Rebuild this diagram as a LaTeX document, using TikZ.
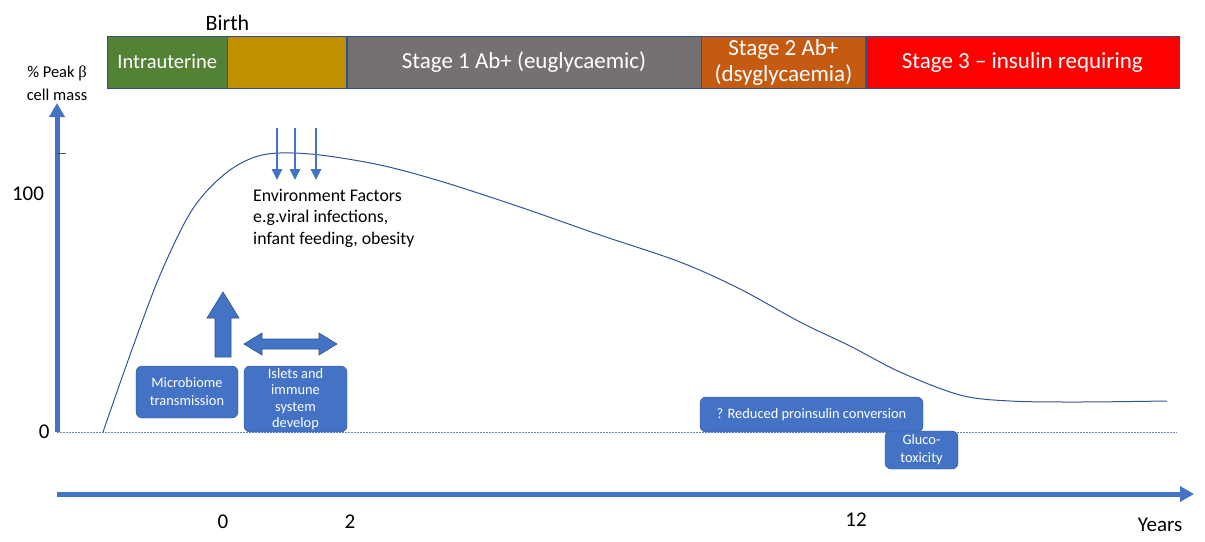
\documentclass[tikz,border=0pt]{standalone}
\usepackage{fontspec}
\setmainfont{Carlito}
\newfontfamily\symfont{Liberation Serif}
\usepackage{tikz}
\usetikzlibrary{positioning,arrows.meta}
\definecolor{axisblue}{HTML}{4472C4}
\definecolor{edgeblue}{HTML}{2F528F}
\definecolor{curveblue}{HTML}{2F5597}
\tikzset{
  stage/.style={rectangle, draw=edgeblue, thin, minimum height=52pt, text=white, inner sep=2pt, align=center, font=\fontsize{23}{26}\selectfont},
  factor/.style={rectangle, rounded corners=6pt, draw=edgeblue, fill=axisblue, text=white, align=center, font=\fontsize{14.4}{18}\selectfont, inner sep=2pt},
  axis/.style={draw=axisblue, line width=5pt, -{Triangle[length=14pt,width=15pt]}},
  envarrow/.style={draw=axisblue, line width=2.5pt, -{Triangle[length=11pt,width=10pt]}},
  blockarrow/.style={draw=edgeblue, fill=axisblue, line width=0.6pt},
  curve/.style={draw=curveblue, line width=1pt},
  label/.style={font=\fontsize{21}{24}\selectfont}
}
\begin{document}
\begin{tikzpicture}[x=1pt,y=-1pt]
    \useasboundingbox (0,0) rectangle (1205,541);
    % stage bar
    \node [stage, fill={rgb,255:red,84;green,130;blue,53}, minimum width=120pt, anchor=west, font=\fontsize{20.5}{24}\selectfont] (intra) at (107,62) {Intrauterine};
    \node [stage, fill={rgb,255:red,191;green,144;blue,0}, minimum width=119pt, right=0pt of intra] (infant) {};
    \node [stage, fill={rgb,255:red,118;green,113;blue,113}, minimum width=354pt, right=0pt of infant] (stageA) {Stage 1 Ab+ (euglycaemic)};
    \node [stage, fill={rgb,255:red,197;green,90;blue,17}, minimum width=164pt, right=0pt of stageA] (stageB) {Stage 2 Ab+\\(dsyglycaemia)};
    \node [stage, fill=red, minimum width=313pt, right=0pt of stageB] (stageC) {Stage 3 -- insulin requiring};
    \node [font=\fontsize{22}{24}\selectfont, above=2pt of intra.north east] (birth) {Birth};
    % axes
    \coordinate (origin) at (57,432);
    \coordinate (ytop) at (57,103);
    \coordinate (xstart) at (57,494);
    \coordinate (xend) at (1194,494);
    \draw [axis] (origin) -- (ytop);
    \draw [axis] (xstart) -- (xend);
    \node [align=center, font=\fontsize{16.5}{23}\selectfont] (ylabel) at (57,83) {\% Peak {\symfont β}\\cell mass};
    \draw [black!70, thin] (57,153) -- (66,153);
    \node [label] (hundred) at (28,194) {100};
    \node [label, left=4pt of origin] (zero) {0};
    \draw [edgeblue!70, thin, dashed, dash pattern=on 2pt off 1pt] (origin) -- (1177,432);
    % years
    \node [label] (yr0) at (223,522) {0};
    \node [label] (yr2) at (350,522) {2};
    \node [label] (yr12) at (856,520) {12};
    \node [label] (years) at (1160,525) {Years};
    % beta cell mass curve
    \draw [curve] plot [smooth, tension=0.55] coordinates {(103,432) (130,355) (158,280) (185,222) (205,193) (230,170) (255,157) (280,153) (320,155) (380,165) (440,181) (520,207) (600,235) (680,262) (740,289) (800,322) (850,346) (900,372) (960,395) (1010,401) (1080,402) (1167,401)};
    % environment
    \foreach \xx in {277,295,316} {
      \draw [envarrow] (\xx,128) -- (\xx,180);
    }
    \node [anchor=north west, align=left, font=\fontsize{17.8}{21.5}\selectfont, inner sep=0pt] (env) at (253,189) {Environment Factors\\e.g.viral infections,\\infant feeding, obesity};
    % factor boxes
    \node [factor, minimum width=102pt, minimum height=52pt] (microbe) at (187,392) {Microbiome\\transmission};
    \node [factor, minimum width=103pt, minimum height=66pt, font=\fontsize{14.4}{16.5}\selectfont] (islets) at (295.5,399) {Islets and\\immune\\system\\develop};
    \node [factor, minimum width=223pt, minimum height=35pt] (proins) at (811.5,414.5) {? Reduced proinsulin conversion};
    \node [factor, minimum width=73pt, minimum height=38pt, font=\fontsize{14.4}{18}\selectfont] (gluco) at (921.5,450) {Gluco-\\toxicity};
    % block arrows
    \coordinate (upbase) at (223,357);
    \coordinate (twoway) at (244,344);
    \draw [blockarrow] (upbase) ++(-8,0) -- ++(0,-39) -- ++(-8,0) -- ++(16,-26) -- ++(16,26) -- ++(-8,0) -- ++(0,39) -- cycle;
    \draw [blockarrow] (twoway) -- ++(18,-11) -- ++(0,6) -- ++(57,0) -- ++(0,-6) -- ++(18,11) -- ++(-18,11) -- ++(0,-6) -- ++(-57,0) -- ++(0,6) -- cycle;
\end{tikzpicture}
\end{document}
